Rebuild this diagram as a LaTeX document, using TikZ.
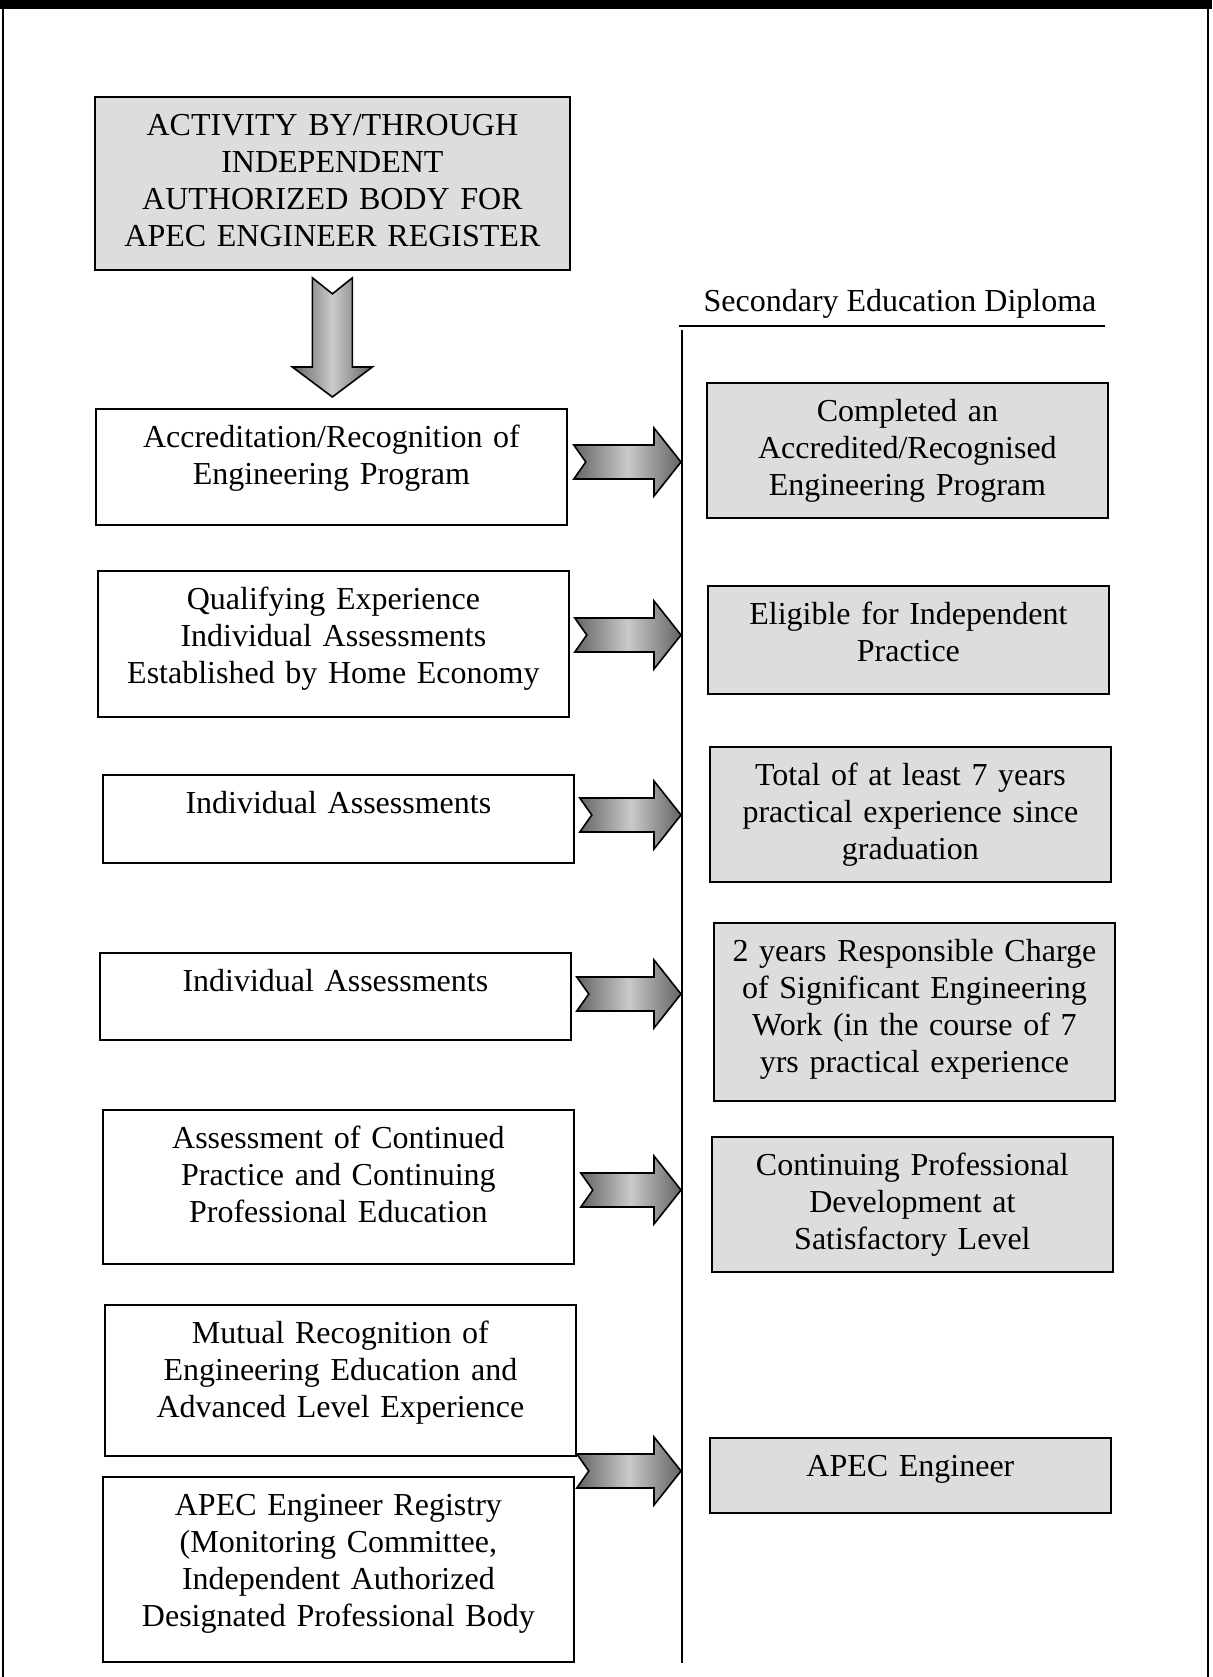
\documentclass[tikz,border=0pt]{standalone}
\usepackage{fontspec}
\setmainfont{Liberation Serif}
\usetikzlibrary{calc,positioning,shadows}

\definecolor{boxgray}{RGB}{221,221,221}
\definecolor{shadedark}{RGB}{100,100,100}
\definecolor{shadelight}{RGB}{202,202,202}

% notched block arrow: shaft half width, head half width, head length, notch depth
\tikzset{
  block arrow/.style n args={4}{to path={
    ($(\tikztostart)!#1!90:(\tikztotarget)$)
    -- ($($(\tikztotarget)!#3!(\tikztostart)$)!#1!90:(\tikztotarget)$)
    -- ($($(\tikztotarget)!#3!(\tikztostart)$)!#2!90:(\tikztotarget)$)
    -- (\tikztotarget)
    -- ($($(\tikztotarget)!#3!(\tikztostart)$)!#2!-90:(\tikztotarget)$)
    -- ($($(\tikztotarget)!#3!(\tikztostart)$)!#1!-90:(\tikztotarget)$)
    -- ($(\tikztostart)!#1!-90:(\tikztotarget)$)
    -- ($(\tikztostart)!#4!(\tikztotarget)$)
    -- cycle}}
}

\begin{document}
\begin{tikzpicture}[x=0.5pt,y=-0.5pt,line width=0.9pt,
    box node/.style={draw,anchor=north west,inner sep=0pt,align=center,text height=19.5pt,
      font=\fontsize{16pt}{18.5pt}\selectfont,
      drop shadow={shadow xshift=0.7pt,shadow yshift=-0.7pt,fill=black!60,opacity=1}},
    left node/.style={box node,fill=white,text width=235.5pt},
    right node/.style={box node,fill=boxgray,text width=200.5pt},
    shade arrow/.style={draw,line width=0.8pt,left color=shadedark,right color=shadedark,middle color=shadelight},
    fat arrow/.style={shade arrow,block arrow={8.5pt}{17pt}{13.5pt}{6pt}},
    fat down arrow/.style={shade arrow,block arrow={10pt}{20pt}{15pt}{8pt}}]
  \useasboundingbox (0,0) rectangle (1212,1677);

  % page frame
  \fill (0,0) rectangle (1212,9);
  \draw (3,9) -- (3,1677);
  \draw (1208,9) -- (1208,1677);

  % left column
  \node[left node,text width=237.5pt,fill=boxgray,text depth=67pt] (act) at (94,96)
    {ACTIVITY BY/THROUGH\\INDEPENDENT\\AUTHORIZED BODY FOR\\APEC ENGINEER REGISTER};
  \node[left node,text depth=38.5pt] (accr) at (95,408)
    {Accreditation/Recognition of\\Engineering Program};
  \node[left node,text depth=53.5pt] (qual) at (97,570)
    {Qualifying Experience\\Individual Assessments\\Established by Home Economy};
  \node[left node,text depth=24.5pt] (indiv1) at (102,774) {Individual Assessments};
  \node[left node,text depth=24pt] (indiv2) at (99,952) {Individual Assessments};
  \node[left node,text depth=57.5pt] (cont) at (102,1109)
    {Assessment of Continued\\Practice and Continuing\\Professional Education};
  \node[left node,text depth=56pt] (mutual) at (104,1304)
    {Mutual Recognition of\\Engineering Education and\\Advanced Level Experience};
  \node[left node,text depth=73pt] (registry) at (102,1476)
    {APEC Engineer Registry\\(Monitoring Committee,\\Independent Authorized\\Designated Professional Body};

  % right column
  \node[anchor=base,font=\fontsize{16pt}{18.5pt}\selectfont] (diploma) at (900,311) {Secondary Education Diploma};
  \coordinate (rule1) at (679,326);
  \coordinate (rule2) at (1105,326);
  \coordinate (coltop) at (682,330);
  \coordinate (colbot) at (682,1663);
  \draw[line width=1.1pt] (rule1) -- (rule2);
  \draw (coltop) -- (colbot);

  \node[right node,text depth=48pt] (completed) at (706,382)
    {Completed an\\Accredited/Recognised\\Engineering Program};
  \node[right node,text depth=34.5pt] (eligible) at (707,585)
    {Eligible for Independent\\Practice};
  \node[right node,text depth=48pt] (total) at (709,746)
    {Total of at least 7 years\\practical experience since\\graduation};
  \node[right node,text depth=69.5pt] (charge) at (713,922)
    {2 years Responsible Charge\\of Significant Engineering\\Work (in the course of 7\\yrs practical experience};
  \node[right node,text depth=48pt] (cpd) at (711,1136)
    {Continuing Professional\\Development at\\Satisfactory Level};
  \node[right node,text depth=18pt] (apeceng) at (709,1437) {APEC Engineer};

  % arrow tips on the column line
  \coordinate (d1) at (681,462);
  \coordinate (d2) at (681,635);
  \coordinate (d3) at (681,815);
  \coordinate (d4) at (681,994);
  \coordinate (d5) at (681,1190);
  \coordinate (d6) at (681,1471);

  \path ($(act.south)+(0,7)$) edge[fat down arrow] ($(act.south |- accr.north)+(0,-11)$);
  \path ($(accr.east |- d1)+(6,0)$) edge[fat arrow] (d1)
        ($(qual.east |- d2)+(5,0)$) edge[fat arrow] (d2)
        ($(indiv1.east |- d3)+(5,0)$) edge[fat arrow] (d3)
        ($(indiv2.east |- d4)+(5,0)$) edge[fat arrow] (d4)
        ($(cont.east |- d5)+(6,0)$) edge[fat arrow] (d5)
        ($(mutual.east |- d6)$) edge[fat arrow] (d6);
\end{tikzpicture}
\end{document}
